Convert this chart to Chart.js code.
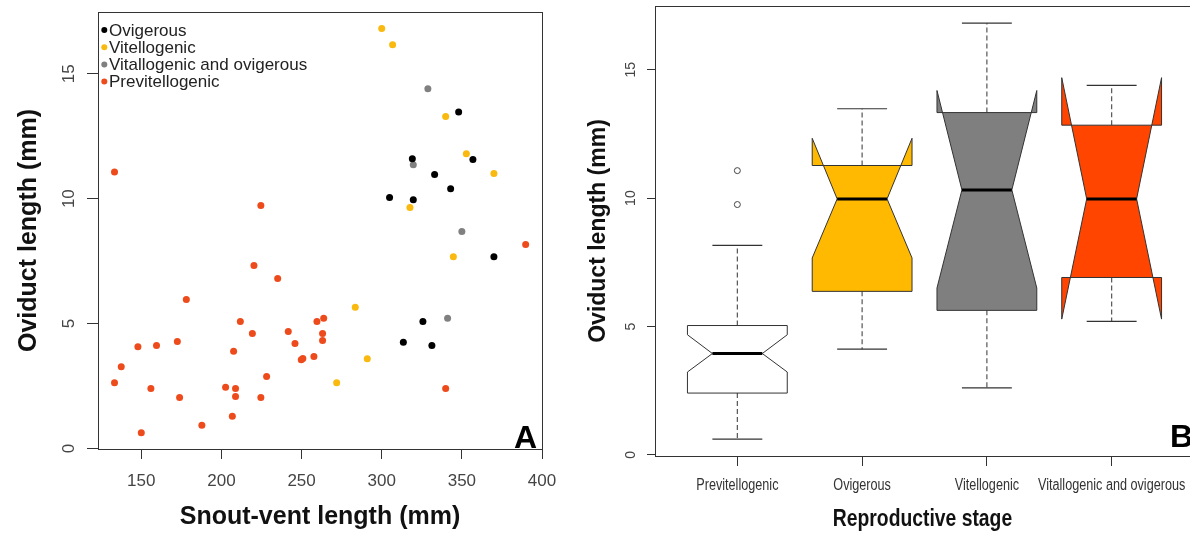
<!DOCTYPE html>
<html>
<head>
<meta charset="utf-8">
<script src="https://cdn.jsdelivr.net/npm/chart.js@4.4.1/dist/chart.umd.min.js"></script>
<style>
  html, body { margin: 0; padding: 0; background: #fff; overflow: hidden; width: 1190px; height: 539px; }
  #panelA { position: absolute; left: 0; top: 0; }
  #panelB { position: absolute; left: 580px; top: 0; }
</style>
</head>
<body>
<canvas id="panelA" width="580" height="539"></canvas>
<canvas id="panelB" width="640" height="539"></canvas>
<script>
// ---- panel A: snout-vent length vs oviduct length ----
const svlTicks = [150, 200, 250, 300, 350, 400];
const olTicks = [0, 5, 10, 15];

const ovigerousSVL = [348.0, 319.1, 356.9, 333.0, 343.0, 304.9, 319.7, 370.0, 325.7, 313.5, 331.3];
const ovigerousOL  = [13.47, 11.60, 11.57, 10.97, 10.40, 10.05, 9.96, 7.67, 5.08, 4.25, 4.12];

const vitellogenicSVL = [300.0, 306.8, 339.9, 352.8, 370.0, 317.6, 344.7, 283.5, 291.0, 271.9];
const vitellogenicOL  = [16.81, 16.16, 13.29, 11.80, 11.01, 9.65, 7.67, 5.65, 3.59, 2.63];

const vitOviSVL = [328.8, 319.7, 350.0, 341.1];
const vitOviOL  = [14.40, 11.36, 8.68, 5.21];

const previtSVL = [133.3, 224.6, 389.8, 220.3, 235.1, 178.1, 211.8, 259.6, 263.8, 219.3, 241.7, 263.1,
                   263.1, 147.9, 159.5, 172.5, 245.9, 207.6, 249.8, 250.8, 257.7, 137.5, 228.2, 133.3,
                   156.0, 202.6, 208.8, 208.8, 173.9, 224.6, 339.9, 206.8, 187.8, 150.0];
const previtOL  = [11.07, 9.73, 8.16, 7.32, 6.80, 5.96, 5.08, 5.08, 5.21, 4.60, 4.68, 4.60,
                   4.32, 4.07, 4.12, 4.28, 4.20, 3.89, 3.55, 3.60, 3.68, 3.27, 2.88, 2.63,
                   2.40, 2.45, 2.40, 2.08, 2.04, 2.04, 2.40, 1.29, 0.93, 0.63];

// ---- panel B: notched boxplots by stage ----
const stages    = ['Previtellogenic', 'Ovigerous', 'Vitellogenic', 'Vitallogenic and ovigerous'];
const whiskerLo = [0.62, 4.12, 2.61, 5.20];
const hingeLo   = [2.41, 6.37, 5.63, 6.91];
const notchLo   = [3.23, 7.67, 6.50, 5.29];
const medians   = [3.95, 9.97, 10.32, 9.97];
const notchHi   = [4.68, 12.33, 14.19, 14.69];
const hingeHi   = [5.04, 11.27, 13.33, 12.84];
const whiskerHi = [8.16, 13.48, 16.81, 14.39];
const outlierStage = [1, 1];
const outlierOL    = [9.75, 11.07];
const stageTicks = [1, 2, 3, 4];

const boxColors = ['#ffffff', '#ffb900', '#7f7f7f', '#ff4500'];

const sans = "'Liberation Sans', Arial, sans-serif";
const AX = '#333';

const pts = (xs, ys) => xs.map((x, i) => ({ x: x, y: ys[i] }));

// box around the plotting region
const frame = {
  id: 'frame',
  afterDraw(chart) {
    const { ctx, chartArea: a } = chart;
    ctx.save();
    ctx.strokeStyle = AX;
    ctx.lineWidth = 1;
    const l = Math.round(a.left) + 0.5, t = Math.round(a.top) + 0.5;
    ctx.strokeRect(l, t, Math.round(a.right) - Math.round(a.left), Math.round(a.bottom) - Math.round(a.top));
    ctx.restore();
  }
};

function panelLetter(letter, dx, dy, align) {
  return {
    id: 'letter' + letter,
    afterDraw(chart) {
      const { ctx, chartArea: a } = chart;
      ctx.save();
      ctx.font = 'bold 32px ' + sans;
      ctx.fillStyle = '#000';
      ctx.textBaseline = 'alphabetic';
      ctx.textAlign = align;
      ctx.fillText(letter, a.right + dx, a.bottom + dy);
      ctx.restore();
    }
  };
}

// legend in the top-left corner of panel A
const stageKey = {
  id: 'stageKey',
  afterDraw(chart) {
    const { ctx, chartArea: a } = chart;
    ctx.save();
    ctx.font = '17px ' + sans;
    ctx.textBaseline = 'middle';
    chart.data.datasets.forEach((ds, i) => {
      const yy = a.top + 19 + i * 17.2;
      ctx.fillStyle = ds.backgroundColor;
      ctx.beginPath();
      ctx.arc(a.left + 6.3, yy - 1, 3, 0, Math.PI * 2);
      ctx.fill();
      ctx.fillStyle = '#222';
      ctx.fillText(ds.label, a.left + 11, yy);
    });
    ctx.restore();
  }
};

// condensed category labels and axis title under panel B
const stageLabels = {
  id: 'stageLabels',
  afterDraw(chart) {
    const { ctx, chartArea: a, scales: { x } } = chart;
    ctx.save();
    ctx.textAlign = 'center';
    ctx.textBaseline = 'middle';
    ctx.fillStyle = '#333';
    ctx.font = '16px ' + sans;
    x.ticks.forEach(t => {
      ctx.save();
      ctx.translate(x.getPixelForValue(t.value), a.bottom + 30);
      ctx.scale(0.79, 1);
      ctx.fillText(stages[t.value - 1], 0, 0);
      ctx.restore();
    });
    ctx.fillStyle = '#111';
    ctx.font = 'bold 23px ' + sans;
    ctx.translate((a.left + a.right) / 2 - 2, a.bottom + 64);
    ctx.scale(0.84, 1);
    ctx.fillText('Reproductive stage', 0, 0);
    ctx.restore();
  }
};

// notched boxes, whiskers and caps
const notchedBoxes = {
  id: 'notchedBoxes',
  beforeDatasetsDraw(chart) {
    const { ctx, scales: { x, y } } = chart;
    const Y = v => y.getPixelForValue(v);
    const seg = (x1, y1, x2, y2) => { ctx.beginPath(); ctx.moveTo(x1, y1); ctx.lineTo(x2, y2); ctx.stroke(); };
    ctx.save();
    stages.forEach((s, i) => {
      const c = stageTicks[i];
      const xc = x.getPixelForValue(c);
      const xl = x.getPixelForValue(c - 0.4), xr = x.getPixelForValue(c + 0.4);
      const nl = x.getPixelForValue(c - 0.2), nr = x.getPixelForValue(c + 0.2);
      // whiskers
      ctx.strokeStyle = '#555';
      ctx.lineWidth = 1.2;
      ctx.setLineDash([5, 3]);
      seg(xc, Y(hingeHi[i]), xc, Y(whiskerHi[i]));
      seg(xc, Y(hingeLo[i]), xc, Y(whiskerLo[i]));
      ctx.setLineDash([]);
      ctx.strokeStyle = '#333';
      seg(nl, Y(whiskerHi[i]), nr, Y(whiskerHi[i]));
      seg(nl, Y(whiskerLo[i]), nr, Y(whiskerLo[i]));
      // box with notch
      ctx.beginPath();
      ctx.moveTo(xl, Y(hingeLo[i]));
      ctx.lineTo(xl, Y(notchLo[i]));
      ctx.lineTo(nl, Y(medians[i]));
      ctx.lineTo(xl, Y(notchHi[i]));
      ctx.lineTo(xl, Y(hingeHi[i]));
      ctx.lineTo(xr, Y(hingeHi[i]));
      ctx.lineTo(xr, Y(notchHi[i]));
      ctx.lineTo(nr, Y(medians[i]));
      ctx.lineTo(xr, Y(notchLo[i]));
      ctx.lineTo(xr, Y(hingeLo[i]));
      ctx.closePath();
      ctx.fillStyle = boxColors[i];
      ctx.fill();
      ctx.strokeStyle = '#333';
      ctx.lineWidth = 1;
      ctx.stroke();
      // median
      ctx.strokeStyle = '#000';
      ctx.lineWidth = 3;
      seg(nl, Y(medians[i]), nr, Y(medians[i]));
    });
    ctx.restore();
  }
};

const tickGrid = len => ({ display: true, drawOnChartArea: false, drawTicks: true, tickLength: len, color: AX, lineWidth: 1 });

new Chart(document.getElementById('panelA'), {
  type: 'scatter',
  data: {
    datasets: [
      { label: 'Ovigerous', data: pts(ovigerousSVL, ovigerousOL), backgroundColor: '#000000' },
      { label: 'Vitellogenic', data: pts(vitellogenicSVL, vitellogenicOL), backgroundColor: '#f9b90e' },
      { label: 'Vitallogenic and ovigerous', data: pts(vitOviSVL, vitOviOL), backgroundColor: '#808080' },
      { label: 'Previtellogenic', data: pts(previtSVL, previtOL), backgroundColor: '#ee4b1c' }
    ]
  },
  options: {
    responsive: false,
    animation: false,
    layout: { padding: { left: 0, top: 12, right: 38, bottom: 0 } },
    plugins: { legend: { display: false }, tooltip: { enabled: false } },
    elements: { point: { radius: 3.5, hoverRadius: 3.5, borderWidth: 0 } },
    scales: {
      x: {
        type: 'linear', min: 123, max: 400,
        afterBuildTicks: s => { s.ticks = svlTicks.map(v => ({ value: v })); },
        afterFit: s => { s.height = 90; s.paddingLeft = 0; s.paddingRight = 0; },
        grid: tickGrid(10),
        border: { display: true, color: AX, width: 1 },
        ticks: { font: { family: sans, size: 17 }, color: '#444', padding: 12, maxRotation: 0, autoSkip: false },
        title: { display: true, text: 'Snout-vent length (mm)', color: '#111',
                 font: { family: sans, size: 25, weight: 'bold' }, padding: { top: 0, bottom: 7 } }
      },
      y: {
        type: 'linear', min: -0.02, max: 17.47,
        afterBuildTicks: s => { s.ticks = olTicks.map(v => ({ value: v })); },
        afterFit: s => { s.width = 98; s.paddingTop = 0; s.paddingBottom = 0; },
        grid: tickGrid(11),
        border: { display: true, color: AX, width: 1 },
        ticks: { font: { family: sans, size: 17 }, color: '#444', padding: 8, minRotation: 90, maxRotation: 90, crossAlign: 'center' },
        title: { display: true, text: 'Oviduct length (mm)', color: '#111',
                 font: { family: sans, size: 25, weight: 'bold' }, padding: { top: 14, bottom: 0 } }
      }
    }
  },
  plugins: [frame, stageKey, panelLetter('A', -5, -1, 'right')]
});

new Chart(document.getElementById('panelB'), {
  type: 'scatter',
  data: {
    datasets: [
      { label: 'outliers', data: pts(outlierStage, outlierOL), backgroundColor: '#ffffff',
        borderColor: '#444', borderWidth: 1, pointRadius: 3, hoverRadius: 3 }
    ]
  },
  options: {
    responsive: false,
    animation: false,
    layout: { padding: { left: 0, top: 6, right: 26, bottom: 0 } },
    plugins: { legend: { display: false }, tooltip: { enabled: false } },
    scales: {
      x: {
        type: 'linear', min: 0.34, max: 4.66,
        afterBuildTicks: s => { s.ticks = stageTicks.map(v => ({ value: v })); },
        afterFit: s => { s.height = 83; s.paddingLeft = 0; s.paddingRight = 0; },
        grid: tickGrid(10),
        border: { display: true, color: AX, width: 1 },
        ticks: { display: false },
        title: { display: false }
      },
      y: {
        type: 'linear', min: -0.04, max: 17.48,
        afterBuildTicks: s => { s.ticks = olTicks.map(v => ({ value: v })); },
        afterFit: s => { s.width = 75; s.paddingTop = 0; s.paddingBottom = 0; },
        grid: tickGrid(8),
        border: { display: true, color: AX, width: 1 },
        ticks: { font: { family: sans, size: 14 }, color: '#444', padding: 8, minRotation: 90, maxRotation: 90, crossAlign: 'center' },
        title: { display: true, text: 'Oviduct length (mm)', color: '#111',
                 font: { family: sans, size: 23, weight: 'bold' }, padding: { top: 5, bottom: 0 } }
      }
    }
  },
  plugins: [notchedBoxes, frame, stageLabels, panelLetter('B', -24, -9, 'left')]
});
</script>
</body>
</html>
